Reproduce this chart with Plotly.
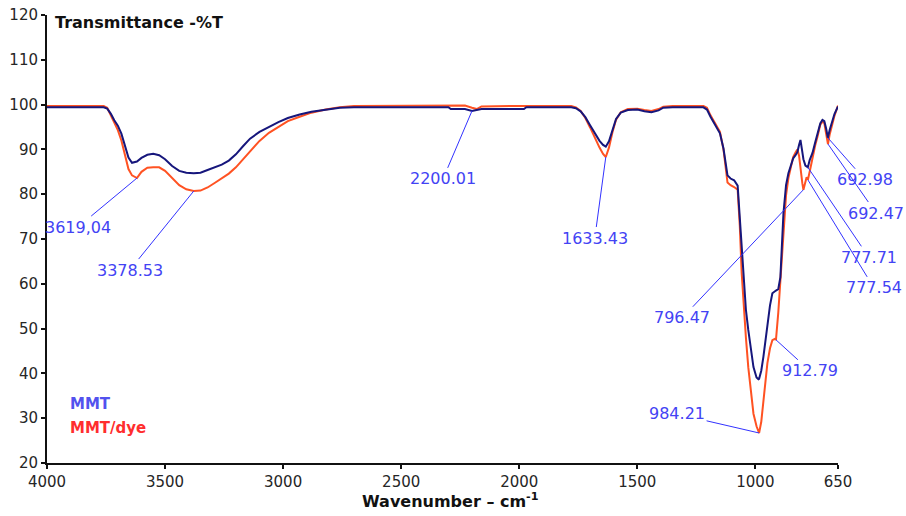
import numpy as np
import plotly.graph_objects as go

# FTIR spectra: wavenumber (cm-1) and transmittance (%T)
wavenumber = [
    4000, 3850, 3760, 3745, 3730, 3715, 3700, 3685, 3670, 3655, 3640, 3619.04,
    3600, 3575, 3550, 3525, 3500, 3470, 3440, 3410, 3378.53, 3350, 3320, 3290,
    3260, 3230, 3200, 3170, 3140, 3100, 3060, 3020, 2980, 2930, 2880, 2820,
    2760, 2700, 2300, 2290, 2230, 2200.01, 2180, 2160, 1980, 1970, 1780, 1760,
    1740, 1720, 1700, 1680, 1660, 1645, 1633.43, 1620, 1605, 1590, 1570, 1540,
    1500, 1470, 1440, 1410, 1390, 1350, 1220, 1205, 1190, 1170, 1150, 1135,
    1125, 1118, 1105, 1090, 1075, 1066, 1058, 1050, 1040, 1030, 1020, 1008,
    995, 987, 984.21, 975, 966, 958, 949, 938, 928, 918, 912.79, 903,
    894, 881, 870, 860, 850, 840, 830, 822, 815, 809, 801, 796.47,
    788, 783, 777.71, 777.54, 770, 758, 747, 737, 725, 716, 708, 700,
    692.98, 692.47, 685, 675, 665, 650,
]
t_mmt = [
    99.4, 99.4, 99.4, 99.1, 98.0, 96.5, 95.3, 93.5, 90.8, 88.2, 87.0, 87.3,
    88.1, 88.8, 89.0, 88.7, 87.8, 86.3, 85.2, 84.8, 84.7, 84.8, 85.4, 86.0,
    86.6, 87.5, 88.9, 90.7, 92.4, 93.9, 95.0, 96.1, 97.0, 97.8, 98.4, 98.9,
    99.3, 99.4, 99.4, 99.0, 99.0, 98.6, 98.8, 99.0, 99.0, 99.4, 99.4, 99.2,
    98.5, 97.2, 95.4, 93.6, 91.9, 91.0, 90.6, 91.8, 94.4, 96.8, 98.2, 98.8,
    98.9, 98.5, 98.3, 98.7, 99.3, 99.4, 99.4, 98.9, 97.3, 95.6, 93.6, 90.2,
    86.6, 84.2, 83.5, 83.1, 81.9, 75.0, 66.5, 60.5, 54.2, 49.7, 45.6, 41.4,
    39.1, 38.7, 38.8, 40.6, 43.7, 47.2, 51.2, 55.2, 57.9, 58.4, 58.5, 58.8,
    61.5, 75.8, 82.0, 84.7, 86.6, 88.0, 88.7, 89.4, 91.0, 92.1, 89.4, 87.8,
    86.4, 86.2, 86.0, 86.05, 87.6, 89.2, 91.5, 93.6, 95.8, 96.6, 96.3, 94.6,
    92.6, 92.7, 94.4, 96.4, 97.9, 99.6,
]
t_mmt_dye = [
    99.7, 99.7, 99.7, 99.3, 97.8, 96.0, 94.3, 92.0, 88.8, 85.6, 84.2, 83.6,
    85.0, 85.9, 86.0, 86.0, 85.2, 83.5, 82.0, 81.1, 80.7, 80.8, 81.5, 82.5,
    83.5, 84.6, 86.0, 87.8, 89.7, 91.9, 93.7, 95.1, 96.3, 97.3, 98.2, 98.9,
    99.4, 99.7, 99.7, 99.8, 99.8, 99.3, 99.0, 99.6, 99.8, 99.7, 99.7, 99.4,
    98.6, 97.0, 94.9, 92.6, 90.4, 89.0, 88.3, 90.4, 93.9, 96.6, 98.3, 99.0,
    99.1, 98.8, 98.6, 99.0, 99.5, 99.7, 99.7, 99.3, 97.6, 95.8, 93.9, 90.0,
    86.0, 82.6, 82.0, 81.6, 81.0, 73.0, 62.5, 55.0, 48.0, 41.4, 36.2, 31.0,
    28.2, 27.0, 26.7, 29.2, 33.4, 37.6, 42.3, 45.6, 47.4, 47.7, 47.5, 53.5,
    60.8, 72.0, 79.8, 83.6, 86.2, 88.3, 89.3, 90.0, 88.6, 85.4, 82.4, 81.0,
    82.6, 83.8, 83.25, 83.2, 85.0, 88.3, 90.8, 92.8, 95.5, 96.2, 95.9, 93.4,
    91.3, 91.2, 93.4, 95.5, 97.5, 99.8,
]

# Peak labels and the spectrum each one marks
peak_labels = ["3619,04", "3378.53", "2200.01", "1633.43", "984.21", "912.79",
               "796.47", "777.71", "777.54", "692.98", "692.47"]
peak_wn = [3619.04, 3378.53, 2200.01, 1633.43, 984.21, 912.79,
           796.47, 777.71, 777.54, 692.98, 692.47]
peak_series = ["MMT/dye", "MMT/dye", "MMT", "MMT/dye", "MMT/dye", "MMT/dye",
               "MMT/dye", "MMT", "MMT/dye", "MMT", "MMT/dye"]
# label placement relative to the peak, in pixels
label_offsets = [(-59, 49), (-64, 79), (-29, 68), (-11, 81), (-82, -19), (34, 31),
                 (-121, 128), (61, 90), (66, 108), (37, 42), (48, 69)]

x_ticks = [4000, 3500, 3000, 2500, 2000, 1500, 1000, 650]

NAVY = "#16167c"
ORANGE = "#ff5222"
LABEL_BLUE = "#4343f4"
TICK_FONT = dict(family="DejaVu Sans", size=15, color="#262626")

series = {"MMT": np.array(t_mmt), "MMT/dye": np.array(t_mmt_dye)}
wn_arr = np.array(wavenumber)

fig = go.Figure()
fig.add_trace(go.Scatter(x=wavenumber, y=t_mmt_dye, mode="lines", name="MMT/dye",
                         line=dict(color=ORANGE, width=2), showlegend=False))
fig.add_trace(go.Scatter(x=wavenumber, y=t_mmt, mode="lines", name="MMT",
                         line=dict(color=NAVY, width=2), showlegend=False))

annotations = []
for label, wn, name, (dx, dy) in zip(peak_labels, peak_wn, peak_series, label_offsets):
    t_val = float(np.interp(wn, wn_arr[::-1], series[name][::-1]))
    annotations.append(dict(
        x=wn, y=t_val, xref="x", yref="y", text=label,
        showarrow=True, arrowhead=0, arrowwidth=1, arrowcolor="#3232ff",
        standoff=0, ax=dx, ay=dy,
        font=dict(family="DejaVu Sans", size=16, color=LABEL_BLUE),
    ))

# axis captions
annotations.append(dict(
    x=0.0076, y=1, xref="paper", yref="paper", xanchor="left", yanchor="middle",
    yshift=-7, showarrow=False, text="<b>Transmittance -%T</b>",
    font=dict(family="DejaVu Sans", size=16, color="#111111"),
))
annotations.append(dict(
    x=0.51, y=-0.083, xref="paper", yref="paper", xanchor="center", yanchor="middle",
    showarrow=False, text="<b>Wavenumber – cm<sup>-1</sup></b>",
    font=dict(family="DejaVu Sans", size=16, color="#111111"),
))
# series key
annotations.append(dict(
    x=0.0265, y=0.1317, xref="paper", yref="paper", xanchor="left", yanchor="middle",
    showarrow=False, text="<b>MMT</b>",
    font=dict(family="DejaVu Sans", size=15, color="#5252ee"),
))
annotations.append(dict(
    x=0.0265, y=0.078, xref="paper", yref="paper", xanchor="left", yanchor="middle",
    showarrow=False, text="<b>MMT/dye</b>",
    font=dict(family="DejaVu Sans", size=15, color="#ff2e2e"),
))

fig.update_layout(
    width=906, height=516,
    margin=dict(l=47, r=68, t=15, b=53),
    paper_bgcolor="white", plot_bgcolor="white",
    annotations=annotations,
    xaxis=dict(
        range=[4000, 650], tickvals=x_ticks, ticktext=[str(v) for v in x_ticks],
        ticks="outside", ticklen=4, tickwidth=1.5, tickcolor="#111111",
        showline=True, linecolor="#111111", linewidth=2, automargin=False,
        showgrid=False, zeroline=False, tickfont=TICK_FONT,
    ),
    yaxis=dict(
        range=[20, 120], tick0=20, dtick=10,
        ticks="outside", ticklen=4, tickwidth=1.5, tickcolor="#111111",
        showline=True, linecolor="#111111", linewidth=2, automargin=False,
        showgrid=False, zeroline=False, tickfont=TICK_FONT,
    ),
)

fig.write_html("out.html")
